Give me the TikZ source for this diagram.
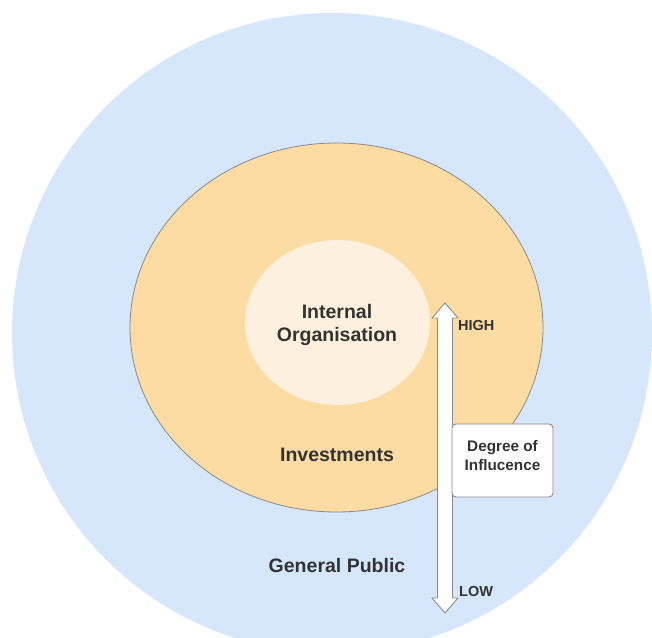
\documentclass[tikz,border=0pt]{standalone}
\usepackage{fontspec}
\setmainfont{Liberation Sans}
\usetikzlibrary{positioning}
\definecolor{publicblue}{HTML}{D6E6FB}
\definecolor{investorange}{HTML}{FDDCA4}
\definecolor{internalcream}{HTML}{FEF0DE}
\definecolor{textgray}{HTML}{333333}
\definecolor{edgegray}{HTML}{8A8A8A}
\tikzset{
  ringlabel/.style={font=\bfseries\fontsize{19.5}{23}\selectfont, text=textgray, align=center, inner sep=0pt},
  scalelabel/.style={font=\bfseries\fontsize{14.5}{18}\selectfont, text=textgray, inner sep=0pt, anchor=west},
  influencebox/.style={draw=edgegray, fill=white, rounded corners=4pt, line width=0.9pt,
    minimum width=101, minimum height=73, align=center, text=textgray, text depth=10pt,
    font=\bfseries\fontsize{15.3}{19}\selectfont}
}

\begin{document}
\begin{tikzpicture}[x=1pt, y=-1pt]
\clip (0, 0) rectangle (652, 637);
\fill [white] (0, 0) rectangle (652, 637);
% rings
\fill [publicblue] (332, 333) circle (320);
\filldraw [fill=investorange, draw=edgegray, line width=0.8pt] (336.5, 327.5) ellipse (206.5 and 184.5);
\fill [internalcream] (337.5, 322.5) ellipse (92.5 and 82.5);
\node [ringlabel] (internal) at (337, 325) {Internal\\Organisation};
\node [ringlabel] (invest) at (337, 455) {Investments};
\node [ringlabel] (public) at (337, 566) {General Public};
% scale arrow
\coordinate (top tip) at (445, 303);
\coordinate (bottom tip) at (445, 613);
\draw [fill=white, draw=edgegray, line width=0.9pt, line join=round]
  (top tip) -- ++(13, 15) -- ++(-5.5, 0) -- ++(0, 280) -- ++(5.5, 0)
  -- (bottom tip) -- ++(-13, -15) -- ++(5.5, 0) -- ++(0, -280) -- ++(-5.5, 0) -- cycle;
\node [scalelabel] (high) at (458, 325.5) {HIGH};
\node [scalelabel] (low) at (459, 591) {LOW};
\node [influencebox] (degree) at (502.5, 460.5) {Degree of\\Influcence};
\end{tikzpicture}
\end{document}
